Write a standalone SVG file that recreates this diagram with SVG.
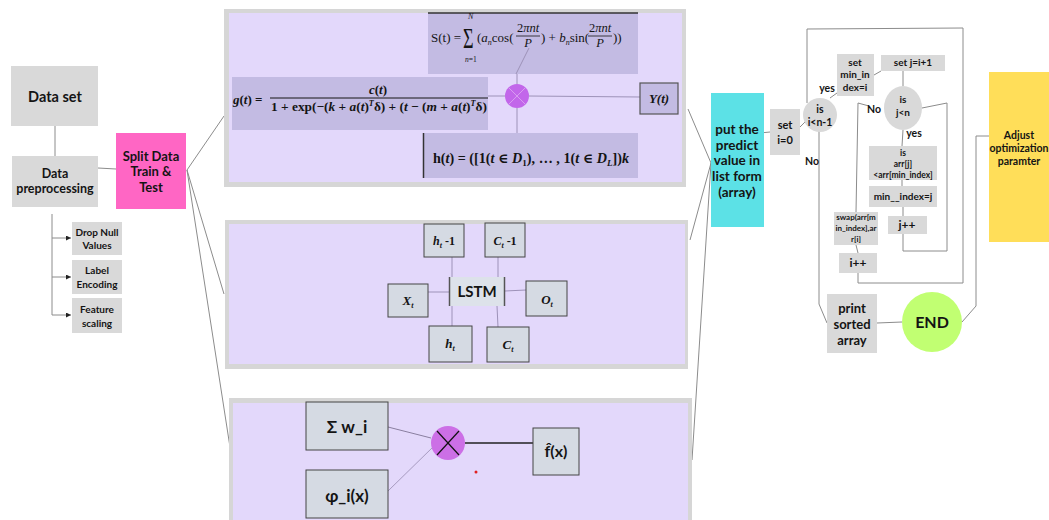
<svg xmlns="http://www.w3.org/2000/svg" width="1049" height="520" viewBox="0 0 1049 520">
  <style>
    .gbox { fill: #d9d9d9; }
    .lbl { font-family: "Lato", "Open Sans", "Liberation Sans", sans-serif; font-weight: 700; fill: #141414; text-anchor: middle; }
    .ln { stroke: #8c8c8c; stroke-width: 1; fill: none; }
    .pl { stroke: #9d92b8; stroke-width: 1; fill: none; }
    .frame { fill: #d6d6d6; }
    .pane { fill: #e3d8fb; }
    .fbox { fill: #c3bbe3; }
    .node { fill: #d5dae3; stroke: #444; stroke-width: 1; }
    .m { font-family: "Liberation Serif", "DejaVu Serif", serif; fill: #141414; }
    .mb { font-family: "Liberation Serif", "DejaVu Serif", serif; font-weight: 700; fill: #141414; }
    .i { font-style: italic; }
  </style>
  <defs>
    <marker id="arr" viewBox="0 0 6 6" refX="6" refY="3" markerWidth="5" markerHeight="5" orient="auto">
      <path d="M0,0 L6,3 L0,6 z" fill="#222"/>
    </marker>
  </defs>
  <rect width="1049" height="520" fill="#ffffff"/>

  <!-- connectors -->
  <g id="connectors">
    <line class="ln" x1="55" y1="126" x2="55" y2="156"/>
    <line class="ln" x1="98" y1="168" x2="116" y2="169"/>
    <line class="ln" x1="52" y1="214" x2="52" y2="315"/>
    <line class="ln" x1="52" y1="238" x2="71" y2="238" stroke="#333" marker-end="url(#arr)"/>
    <line class="ln" x1="52" y1="277" x2="71" y2="277" stroke="#333" marker-end="url(#arr)"/>
    <line class="ln" x1="52" y1="315" x2="71" y2="315" stroke="#333" marker-end="url(#arr)"/>
    <line class="ln" x1="187" y1="170" x2="224" y2="116"/>
    <line class="ln" x1="187" y1="170" x2="224" y2="294"/>
    <line class="ln" x1="187" y1="170" x2="232" y2="460"/>
    <line class="ln" x1="688" y1="109" x2="711" y2="163"/>
    <line class="ln" x1="690" y1="240" x2="711" y2="163"/>
    <line class="ln" x1="692" y1="460" x2="711" y2="163"/>
    <line class="ln" x1="760" y1="133" x2="770" y2="132"/>
    <line class="ln" x1="800" y1="127" x2="805" y2="122"/>
    <polyline class="ln" points="807,103 807,29 963,28 963,283 858,283 858,273"/>
    <line class="ln" x1="830" y1="98" x2="837" y2="93"/>
    <line class="ln" x1="874" y1="75" x2="881" y2="71"/>
    <line class="ln" x1="903" y1="70" x2="903" y2="86"/>
    <polyline class="ln" points="869,106 858,103 856,212"/>
    <polyline class="ln" points="922,108 947,103 947,251 903,251 903,234"/>
    <line class="ln" x1="903" y1="130" x2="902" y2="146"/>
    <line class="ln" x1="902" y1="180" x2="902" y2="186"/>
    <line class="ln" x1="903" y1="207" x2="903" y2="216"/>
    <line class="ln" x1="856" y1="245" x2="858" y2="253"/>
    <polyline class="ln" points="819,129 819,304 827,323"/>
    <line class="ln" x1="877" y1="323" x2="902" y2="322"/>
    <polyline class="ln" points="962,322 976,306 976,136 990,136"/>
  </g>

  <!-- preprocessing column -->
  <g id="data-set">
    <rect class="gbox" x="11" y="66" width="87" height="60"/>
    <text class="lbl" x="55" y="102" font-size="14.5">Data set</text>
  </g>
  <g id="data-preprocessing">
    <rect class="gbox" x="12" y="156" width="86" height="51"/>
    <text class="lbl" x="55" y="178" font-size="12.5">Data</text>
    <text class="lbl" x="55" y="193" font-size="12.5">preprocessing</text>
  </g>
  <g id="split-data">
    <rect x="116" y="133" width="70" height="76" fill="#ff66c4"/>
    <text class="lbl" x="151" y="161" font-size="13">Split Data</text>
    <text class="lbl" x="151" y="176" font-size="13">Train &amp;</text>
    <text class="lbl" x="151" y="192" font-size="13">Test</text>
  </g>
  <g id="drop-null">
    <rect class="gbox" x="72" y="222" width="50" height="33"/>
    <text class="lbl" x="97" y="236" font-size="10">Drop Null</text>
    <text class="lbl" x="97" y="249" font-size="10">Values</text>
  </g>
  <g id="label-encoding">
    <rect class="gbox" x="72" y="260" width="50" height="34"/>
    <text class="lbl" x="97" y="274" font-size="10">Label</text>
    <text class="lbl" x="97" y="288" font-size="10">Encoding</text>
  </g>
  <g id="feature-scaling">
    <rect class="gbox" x="72" y="298" width="50" height="35"/>
    <text class="lbl" x="97" y="313" font-size="10">Feature</text>
    <text class="lbl" x="97" y="327" font-size="10">scaling</text>
  </g>

  <!-- Prophet-style model panel -->
  <g id="panel-prophet">
    <rect class="frame" x="224" y="9" width="462" height="178"/>
    <rect class="pane" x="229" y="13" width="453" height="169"/>
    <rect class="fbox" x="428" y="13" width="210" height="61"/>
    <line x1="428" y1="13" x2="638" y2="13" stroke="#333" stroke-width="1.5"/>
    <rect class="fbox" x="232" y="77" width="256" height="53"/>
    <rect class="fbox" x="423" y="133" width="215" height="45"/>
    <line x1="423.5" y1="133" x2="423.5" y2="178" stroke="#333" stroke-width="1.5"/>
    <line class="pl" x1="516" y1="74" x2="529" y2="48"/>
    <line class="pl" x1="517" y1="74" x2="517" y2="84"/>
    <line class="pl" x1="488" y1="96" x2="505" y2="96"/>
    <line class="pl" x1="529" y1="96" x2="640" y2="97"/>
    <line class="pl" x1="517" y1="108" x2="517" y2="133"/>
    <circle cx="517" cy="96" r="12" fill="#c266ea"/>
    <line x1="509" y1="88" x2="525" y2="104" stroke="#d89cf0" stroke-width="1"/>
    <line x1="525" y1="88" x2="509" y2="104" stroke="#d89cf0" stroke-width="1"/>
    <!-- seasonality -->
    <text class="m" x="431" y="42" font-size="13">S(t) =</text>
    <text class="m" transform="translate(463,48) scale(0.7,1.1)" font-size="26">Σ</text>
    <text class="m i" x="468" y="19" font-size="8">N</text>
    <text class="m" x="465" y="62" font-size="7.5"><tspan class="i">n</tspan>=1</text>
    <text class="m" x="477" y="42" font-size="13">(<tspan class="i">a</tspan><tspan class="i" font-size="8" dy="3">n</tspan><tspan dy="-3">cos(</tspan></text>
    <text class="m" x="528" y="32" font-size="12.5" text-anchor="middle">2<tspan class="i">πnt</tspan></text>
    <line x1="516" y1="36" x2="540" y2="36" stroke="#141414" stroke-width="0.8"/>
    <text class="m i" x="528" y="47" font-size="12.5" text-anchor="middle">P</text>
    <text class="m" x="541" y="42" font-size="13">) + <tspan class="i">b</tspan><tspan class="i" font-size="8" dy="3">n</tspan><tspan dy="-3">sin(</tspan></text>
    <text class="m" x="600" y="32" font-size="12.5" text-anchor="middle">2<tspan class="i">πnt</tspan></text>
    <line x1="588" y1="36" x2="612" y2="36" stroke="#141414" stroke-width="0.8"/>
    <text class="m i" x="600" y="47" font-size="12.5" text-anchor="middle">P</text>
    <text class="m" x="613" y="42" font-size="13">))</text>
    <!-- trend -->
    <text class="mb" x="233" y="104" font-size="13"><tspan class="i">g</tspan>(<tspan class="i">t</tspan>) =</text>
    <text class="mb" x="378" y="94" font-size="13" text-anchor="middle"><tspan class="i">c</tspan>(<tspan class="i">t</tspan>)</text>
    <line x1="270" y1="98" x2="488" y2="98" stroke="#141414" stroke-width="1"/>
    <text class="mb" x="271" y="111" font-size="13" textLength="216" lengthAdjust="spacingAndGlyphs">1 + exp(−(<tspan class="i">k</tspan> + <tspan class="i">a</tspan>(<tspan class="i">t</tspan>)<tspan class="i" font-size="8" dy="-5">T</tspan><tspan dy="5">δ) + (</tspan><tspan class="i">t</tspan> − (<tspan class="i">m</tspan> + <tspan class="i">a</tspan>(<tspan class="i">t</tspan>)<tspan class="i" font-size="8" dy="-5">T</tspan><tspan dy="5">δ)</tspan></text>
    <!-- holidays -->
    <text class="mb" x="433" y="163" font-size="14" textLength="196" lengthAdjust="spacingAndGlyphs">h(<tspan class="i">t</tspan>) = ([1(<tspan class="i">t</tspan> ∈ <tspan class="i">D</tspan><tspan font-size="9" dy="3">1</tspan><tspan dy="-3">), … , 1(</tspan><tspan class="i">t</tspan> ∈ <tspan class="i">D</tspan><tspan class="i" font-size="9" dy="3">L</tspan><tspan dy="-3">])</tspan><tspan class="i">k</tspan></text>
  </g>
  <g id="y-of-t">
    <rect x="640" y="83" width="38" height="31" fill="#c3bbe3" stroke="#555" stroke-width="1.2"/>
    <text class="mb i" x="659" y="103" font-size="13" text-anchor="middle">Y(t)</text>
  </g>

  <!-- LSTM panel -->
  <g id="panel-lstm">
    <rect class="frame" x="225" y="220" width="463" height="149"/>
    <rect class="pane" x="229" y="224" width="456" height="140"/>
    <line class="pl" x1="452" y1="257" x2="452" y2="277"/>
    <line class="pl" x1="498" y1="257" x2="498" y2="277"/>
    <line class="pl" x1="428" y1="292" x2="449" y2="292"/>
    <line class="pl" x1="505" y1="291" x2="526" y2="290"/>
    <line class="pl" x1="452" y1="306" x2="452" y2="326"/>
    <line class="pl" x1="497" y1="306" x2="498" y2="327"/>
  </g>
  <g id="lstm">
    <rect x="449" y="277" width="56" height="29" fill="#dde2ea"/>
    <line x1="449.5" y1="277" x2="449.5" y2="306" stroke="#555" stroke-width="1.5"/>
    <line x1="504.5" y1="277" x2="504.5" y2="306" stroke="#555" stroke-width="1.5"/>
    <text class="lbl" x="477" y="297" font-size="15">LSTM</text>
  </g>
  <g id="h-prev">
    <rect class="node" x="424" y="224" width="40" height="33"/>
    <text class="mb" x="444" y="245" font-size="12" text-anchor="middle"><tspan class="i">h</tspan><tspan class="i" font-size="8" dy="3">t</tspan><tspan dy="-3"> -1</tspan></text>
  </g>
  <g id="c-prev">
    <rect class="node" x="485" y="223" width="40" height="34"/>
    <text class="mb" x="505" y="245" font-size="12" text-anchor="middle"><tspan class="i">C</tspan><tspan class="i" font-size="8" dy="3">t</tspan><tspan dy="-3"> -1</tspan></text>
  </g>
  <g id="x-t">
    <rect class="node" x="388" y="284" width="40" height="33"/>
    <text class="mb" x="408" y="305" font-size="13" text-anchor="middle"><tspan class="i">X</tspan><tspan class="i" font-size="8" dy="3">t</tspan></text>
  </g>
  <g id="o-t">
    <rect class="node" x="526" y="281" width="41" height="35"/>
    <text class="mb" x="547" y="304" font-size="13" text-anchor="middle"><tspan class="i">O</tspan><tspan class="i" font-size="8" dy="3">t</tspan></text>
  </g>
  <g id="h-t">
    <rect class="node" x="429" y="326" width="43" height="36"/>
    <text class="mb" x="450" y="348" font-size="13" text-anchor="middle"><tspan class="i">h</tspan><tspan class="i" font-size="8" dy="3">t</tspan></text>
  </g>
  <g id="c-t">
    <rect class="node" x="487" y="327" width="42" height="35"/>
    <text class="mb" x="508" y="349" font-size="13" text-anchor="middle"><tspan class="i">C</tspan><tspan class="i" font-size="8" dy="3">t</tspan></text>
  </g>

  <!-- weighted combination panel -->
  <g id="panel-ensemble">
    <rect class="frame" x="229" y="398" width="463" height="130"/>
    <rect class="pane" x="233" y="403" width="455" height="125"/>
    <line x1="388" y1="427" x2="431" y2="438" stroke="#8a7fa0" stroke-width="1"/>
    <line x1="388" y1="491" x2="433" y2="447" stroke="#a79bc0" stroke-width="1"/>
    <line x1="465" y1="443" x2="533" y2="443" stroke="#222" stroke-width="1.3"/>
    <circle cx="476" cy="472" r="1.5" fill="#e02020"/>
  </g>
  <g id="weights">
    <rect class="node" x="306" y="402" width="82" height="48"/>
    <text class="lbl" x="347" y="433" font-size="17">Σ w_i</text>
  </g>
  <g id="basis">
    <rect class="node" x="306" y="470" width="82" height="48"/>
    <text class="lbl" x="347" y="502" font-size="17">φ_i(x)</text>
  </g>
  <g id="combine">
    <circle cx="448" cy="443" r="17" fill="#cc6fe6"/>
    <line x1="437" y1="431" x2="459" y2="455" stroke="#111" stroke-width="1.2"/>
    <line x1="459" y1="431" x2="437" y2="455" stroke="#111" stroke-width="1.2"/>
  </g>
  <g id="f-hat">
    <rect class="node" x="533" y="428" width="46" height="47"/>
    <text class="lbl" x="556" y="457" font-size="16">f̂(x)</text>
  </g>

  <!-- result array -->
  <g id="predict-array">
    <rect x="711" y="93" width="53" height="134" fill="#5ce1e6"/>
    <text class="lbl" x="737" y="134" font-size="13.5">put the</text>
    <text class="lbl" x="737" y="150" font-size="13.5">predict</text>
    <text class="lbl" x="737" y="165" font-size="13.5">value in</text>
    <text class="lbl" x="737" y="181" font-size="13.5">list form</text>
    <text class="lbl" x="737" y="197" font-size="13.5">(array)</text>
  </g>

  <!-- selection sort flow -->
  <g id="set-i">
    <rect class="gbox" x="770" y="109" width="30" height="46"/>
    <text class="lbl" x="785" y="129" font-size="11">set</text>
    <text class="lbl" x="785" y="144" font-size="11">i=0</text>
  </g>
  <g id="check-i">
    <ellipse cx="820" cy="115" rx="17" ry="17" fill="#d9d9d9"/>
    <text class="lbl" x="820" y="113" font-size="10.5">is</text>
    <text class="lbl" x="820" y="126" font-size="10.5">i&lt;n-1</text>
  </g>
  <text class="lbl" x="827" y="92" font-size="10.5">yes</text>
  <text class="lbl" x="812" y="165" font-size="10.5">No</text>
  <g id="set-min">
    <rect class="gbox" x="837" y="54" width="37" height="42"/>
    <text class="lbl" x="855" y="66" font-size="10">set</text>
    <text class="lbl" x="855" y="78" font-size="10">min_in</text>
    <text class="lbl" x="855" y="91" font-size="10">dex=i</text>
  </g>
  <g id="set-j">
    <rect class="gbox" x="881" y="55" width="64" height="16"/>
    <text class="lbl" x="913" y="66" font-size="10">set j=i+1</text>
  </g>
  <g id="check-j">
    <ellipse cx="903" cy="108" rx="19" ry="22" fill="#d9d9d9"/>
    <text class="lbl" x="903" y="103" font-size="10">is</text>
    <text class="lbl" x="903" y="116" font-size="10" font-weight="400">j&lt;n</text>
  </g>
  <text class="lbl" x="874" y="113" font-size="10.5">No</text>
  <text class="lbl" x="914" y="137" font-size="10.5">yes</text>
  <g id="compare">
    <rect class="gbox" x="869" y="146" width="68" height="34"/>
    <text class="lbl" x="903" y="156" font-size="8.5">is</text>
    <text class="lbl" x="903" y="167" font-size="8.5">arr[j]</text>
    <text class="lbl" x="903" y="178" font-size="8.5" font-weight="400">&lt;arr[min_index]</text>
  </g>
  <g id="update-min">
    <rect class="gbox" x="869" y="186" width="68" height="21"/>
    <text class="lbl" x="903" y="200" font-size="10">min__index=j</text>
  </g>
  <g id="inc-j">
    <rect class="gbox" x="888" y="216" width="39" height="18"/>
    <text class="lbl" x="907" y="229" font-size="12">j++</text>
  </g>
  <g id="swap">
    <rect class="gbox" x="834" y="212" width="44" height="33"/>
    <text class="lbl" x="856" y="220" font-size="8">swap(arr[m</text>
    <text class="lbl" x="856" y="231" font-size="8">in_index],ar</text>
    <text class="lbl" x="856" y="242" font-size="8" font-weight="400">r[i]</text>
  </g>
  <g id="inc-i">
    <rect class="gbox" x="839" y="253" width="38" height="20"/>
    <text class="lbl" x="858" y="267" font-size="12">i++</text>
  </g>
  <g id="print-array">
    <rect class="gbox" x="827" y="294" width="50" height="59"/>
    <text class="lbl" x="852" y="313" font-size="13">print</text>
    <text class="lbl" x="852" y="329" font-size="13">sorted</text>
    <text class="lbl" x="852" y="345" font-size="13">array</text>
  </g>
  <g id="end">
    <circle cx="932" cy="322" r="30" fill="#c1ff72"/>
    <text class="lbl" x="932" y="328" font-size="16">END</text>
  </g>
  <g id="adjust">
    <rect x="989" y="72" width="60" height="170" fill="#ffde59"/>
    <text class="lbl" x="1019" y="139" font-size="10.5">Adjust</text>
    <text class="lbl" x="1019" y="152" font-size="10.5">optimization</text>
    <text class="lbl" x="1019" y="165" font-size="10.5">paramter</text>
  </g>
</svg>
